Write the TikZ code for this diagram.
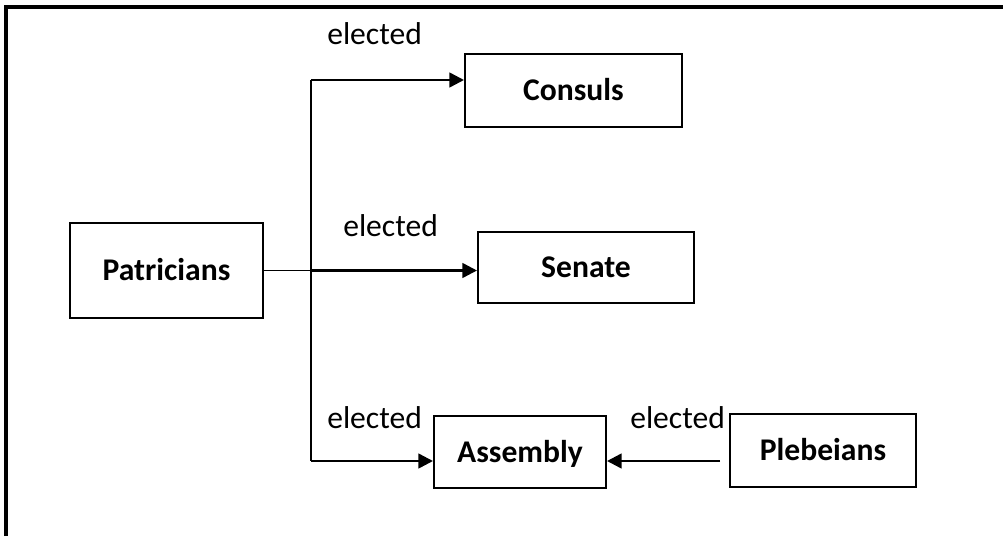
\documentclass[tikz,border=0pt]{standalone}
\usepackage{fontspec}
\setmainfont{Carlito}
\usetikzlibrary{arrows.meta}
\tikzset{
  office/.style={draw,line width=1.5pt,inner sep=0pt,font=\bfseries\fontsize{23.7}{28}\selectfont,text height=18pt,text depth=3pt},
  vote/.style={anchor=base west,inner sep=0pt,font=\fontsize{23.7}{28}\selectfont},
  link/.style={line width=1.9pt},
}

\begin{document}
\begin{tikzpicture}[>={Triangle[length=11pt,width=11pt]},x=0.75pt,y=-0.75pt]
\useasboundingbox (0,0) rectangle (1003,536);
\draw[line width=2.3pt] (6,536) -- (6,7) -- (1003,7);
\foreach \nm/\x/\y/\w/\h/\lab in {pat/166.5/270.5/193/95/Patricians,con/573.5/90.5/217/73/Consuls,sen/586/267.5/216/71/Senate,asm/520/452/172/72/Assembly,pleb/823/450.5/186/73/Plebeians}
  {\node[office,minimum width=\w*0.75pt,minimum height=\h*0.75pt] (\nm) at (\x,\y) {\lab};}
\coordinate (jtop) at (311,80);
\coordinate (jbot) at (311,461);
\coordinate (plebout) at (720,461);
\draw[line width=1.2pt] (pat.east) -- (pat.east -| jtop);
\draw[link] (jtop) -- (jbot);
\draw[link,->] (jtop) -- (jtop -| con.west);
\draw[link,->] (pat.east -| jtop) -- (sen.west |- pat.east);
\draw[link,->] (jbot) -- (jbot -| asm.west);
\draw[link,->] (plebout) -- (plebout -| asm.east);
\node[vote] (v1) at (327,44) {elected};
\node[vote] (v2) at (343,236) {elected};
\node[vote] (v3) at (327,428) {elected};
\node[vote] (v4) at (630,428) {elected};
\end{tikzpicture}
\end{document}
